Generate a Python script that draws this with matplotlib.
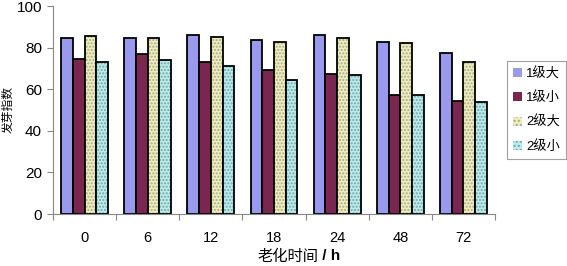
import matplotlib
matplotlib.use("Agg")
import matplotlib.pyplot as plt
import numpy as np

plt.rcParams['font.family'] = ['Liberation Sans', 'Noto Sans CJK SC', 'DejaVu Sans']

hours = ['0', '6', '12', '18', '24', '48', '72']
series = ['1级大', '1级小', '2级大', '2级小']
lv1_big = [84.6, 84.7, 86.0, 83.6, 86.0, 82.8, 77.5]
lv1_small = [74.5, 76.9, 72.9, 69.0, 67.3, 57.3, 54.4]
lv2_big = [85.7, 84.6, 85.2, 82.8, 84.6, 82.2, 72.9]
lv2_small = [73.2, 74.0, 71.0, 64.4, 66.6, 57.3, 53.7]

colors = ['#9999EE', '#7A2650', '#EEEEBB', '#BDEBEB']
hatch_colors = [None, None, '#A8A890', '#6FA8A8']

fig = plt.figure(figsize=(5.67, 2.66), dpi=100)
ax = fig.add_axes([53/567, 1 - 214/266, 442/567, 208/266])

x = np.arange(len(hours))
w = 0.186
data = [lv1_big, lv1_small, lv2_big, lv2_small]
handles = []
for i, vals in enumerate(data):
    pos = x + (i - 1.5) * w
    if hatch_colors[i]:
        ax.bar(pos, vals, w, color=colors[i], edgecolor=hatch_colors[i],
               hatch='.....', lw=0)
    else:
        ax.bar(pos, vals, w, color=colors[i], lw=0)
    ax.bar(pos, vals, w, facecolor='none', edgecolor='black', lw=1.3)
    if hatch_colors[i]:
        h = plt.Rectangle((0, 0), 1, 1, facecolor=colors[i], edgecolor=hatch_colors[i],
                          hatch='....', lw=0)
    else:
        h = plt.Rectangle((0, 0), 1, 1, facecolor=colors[i])
    handles.append(h)

ax.set_xlim(-0.5, len(hours) - 0.5)
ax.set_ylim(0, 100)
ax.set_yticks([0, 20, 40, 60, 80, 100])
ax.set_xticks(np.arange(len(hours) + 1) - 0.5, minor=False)
ax.set_xticklabels([])
ax.set_xticks(x, minor=True)
ax.set_xticklabels(hours, minor=True)
ax.tick_params(axis='x', which='minor', length=0, pad=12, labelsize=10.5)
ax.tick_params(axis='x', which='major', length=4, direction='out', color='#888888')
ax.tick_params(axis='y', length=4, color='#888888', labelsize=11, pad=4)
for s in ['top', 'right']:
    ax.spines[s].set_visible(False)
ax.spines['left'].set_color('#888888')
ax.spines['bottom'].set_color('#888888')

fig.text(8/567, 1 - 110/266, '发芽指数', family=['Noto Sans CJK SC'], fontsize=8.5,
         rotation=90, ha='center', va='center')
fig.text(318/567, 1 - 256/266, '老化时间', family=['Noto Sans CJK SC'],
         fontsize=11, ha='right', va='center')
fig.text(318/567, 1 - 256/266, ' / h', fontsize=11, fontweight='bold',
         ha='left', va='center')

leg = fig.legend(handles, series, loc='center left', bbox_to_anchor=(507/567, 1 - 110/266),
                 prop={'family': ['Liberation Sans', 'Noto Sans CJK SC'], 'size': 9.5},
                 handlelength=0.7, handleheight=0.7, handletextpad=0.3,
                 labelspacing=0.85, borderpad=0.45, borderaxespad=0, frameon=True,
                 fancybox=False, edgecolor='#888888')
leg.get_frame().set_linewidth(0.8)

fig.savefig('out.png', dpi=100)
